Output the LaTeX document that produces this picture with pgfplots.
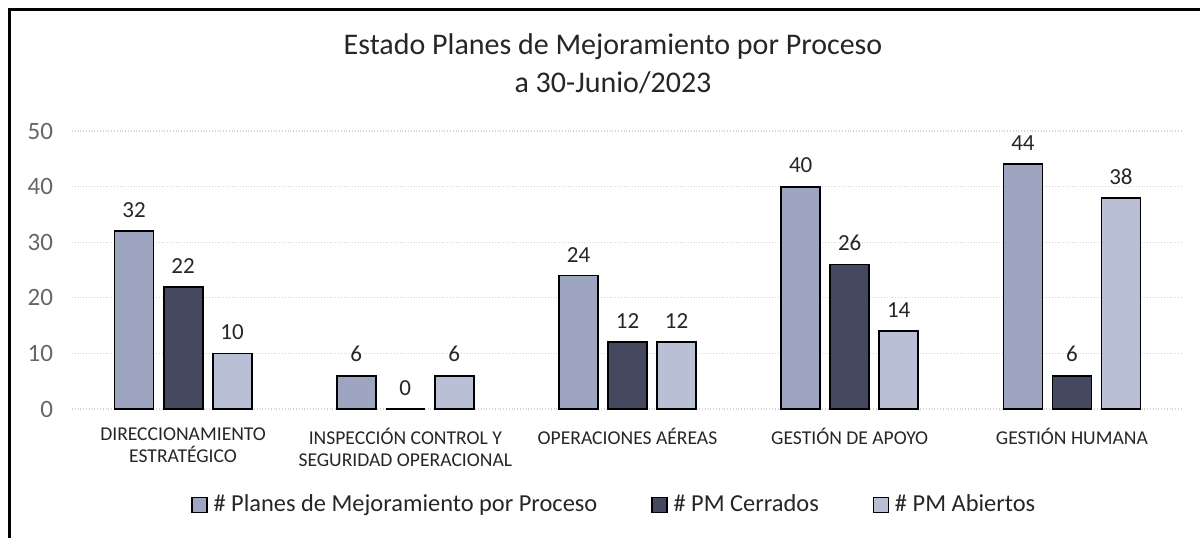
\documentclass[border=0pt]{standalone}
\usepackage{pgfplots}
\pgfplotsset{compat=1.18}
\usepackage{fontspec}
\setmainfont{Carlito}
\definecolor{cA}{HTML}{9EA5C0}
\definecolor{cB}{HTML}{44495F}
\definecolor{cC}{HTML}{B9BFD4}
\definecolor{gridc}{HTML}{D4D6DC}
\definecolor{txt}{HTML}{262626}
\begin{document}
\begin{tikzpicture}
\path[use as bounding box] (0,0) rectangle (601.5pt,-269pt);
\draw[line width=1.5pt] (4.5pt,-269pt) -- (4.5pt,-4.5pt) -- (600pt,-4.5pt);
\node[text=txt,font=\fontsize{15}{18}\selectfont,align=center] at (306.5pt,-32pt) {Estado Planes de Mejoramiento por Proceso\\[1pt]a 30-Junio/2023};
\begin{axis}[
  at={(36pt,-204.5pt)}, anchor=south west,
  scale only axis, width=555.5pt, height=139pt,
  xmin=-0.5, xmax=4.5, ymin=0, ymax=50,
  ybar=5pt, bar width=19.5pt,
  axis line style={draw=none},
  ytick={0,10,...,50},
  ymajorgrids, grid style={gridc, densely dotted, line width=0.6pt},
  major tick length=0pt,
  xtick={0,1,2,3,4},
  xticklabels={DIRECCIONAMIENTO\\ESTRATÉGICO, INSPECCIÓN CONTROL Y\\SEGURIDAD OPERACIONAL, OPERACIONES AÉREAS, GESTIÓN DE APOYO, GESTIÓN HUMANA},
  xticklabel style={align=center, font=\fontsize{9.8}{11}\selectfont, text=txt, anchor=north, yshift=-6pt},
  yticklabel style={font=\fontsize{12.5}{14}\selectfont, text=black!60, xshift=-6pt},
  /pgf/number format/assume math mode=true,
  nodes near coords,
  nodes near coords style={font=\fontsize{11.5}{14}\selectfont, text=txt, yshift=3pt},
  legend style={at={(0.489,-0.345)}, anchor=center, draw=none, fill=none,
    legend columns=3, font=\fontsize{12.2}{14}\selectfont, text=txt,
    /tikz/every even column/.append style={column sep=25pt},
    /tikz/every odd column/.append style={column sep=1pt}},
  legend image code/.code={\draw[#1, line width=0.6pt] (0pt,-3.7pt) rectangle (7.5pt,3.7pt);},
]
\addplot[fill=cA, draw=black, line width=0.9pt] coordinates {(0,32) (1,6) (2,24) (3,40) (4,44)};
\addplot[fill=cB, draw=black, line width=0.9pt] coordinates {(0,22) (1,0) (2,12) (3,26) (4,6)};
\addplot[fill=cC, draw=black, line width=0.9pt] coordinates {(0,10) (1,6) (2,12) (3,14) (4,38)};
\legend{\# Planes de Mejoramiento por Proceso, \# PM Cerrados, \# PM Abiertos}
\end{axis}
\end{tikzpicture}
\end{document}
